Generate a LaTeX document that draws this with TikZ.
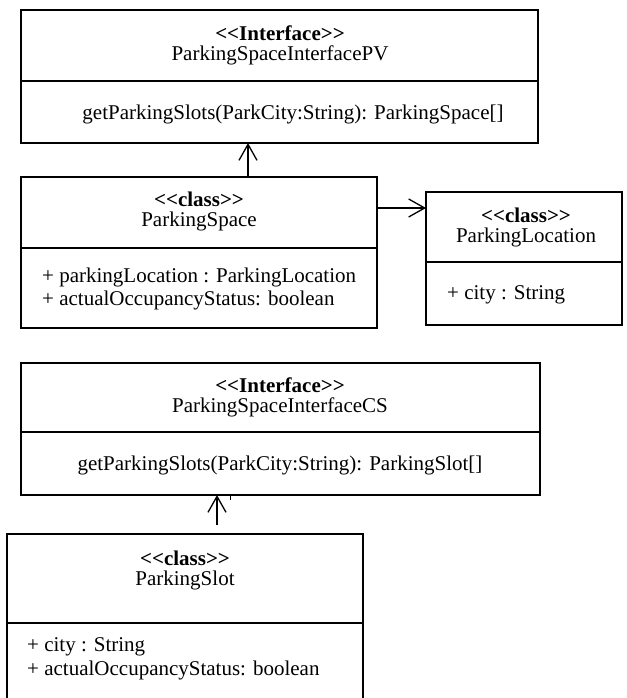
\documentclass[tikz,border=0pt]{standalone}
\usepackage{fontspec}
\setmainfont{Liberation Serif}
\usetikzlibrary{arrows.meta}
\begin{document}
\begin{tikzpicture}[x=1pt,y=-1pt,
  umlbox/.style={draw=black, line width=2.6pt, anchor=north west, inner sep=0pt, outer sep=0pt},
  divline/.style={line width=2.6pt},
  txt/.style={inner sep=0pt, font=\fontsize{21}{22}\selectfont},
  assoc/.style={line width=1.3pt, -{Straight Barb[length=16pt,width=18pt,line width=1.3pt]}}
]
\useasboundingbox (0,0) rectangle (626,698);
\clip (0,0) rectangle (626,698);

% ParkingSpaceInterfacePV
\node[umlbox, minimum width=517pt, minimum height=133pt] (pv) at (21,10) {};
\coordinate (pvdl) at (21,81); \coordinate (pvdr) at (538,81);
\draw[divline] (pvdl) -- (pvdr);
\node[txt] (pvst) at (280,33) {\textbf{<{}<Interface>{}>}};
\node[txt] (pvnm) at (280,55) {ParkingSpaceInterfacePV};
\node[txt] (pvop) at (293,114) {getParkingSlots(ParkCity:String): ParkingSpace[]};

% ParkingSpace
\node[umlbox, minimum width=356pt, minimum height=151pt] (ps) at (21,177) {};
\coordinate (psdl) at (21,248); \coordinate (psdr) at (377,248);
\draw[divline] (psdl) -- (psdr);
\node[txt] (psst) at (199,199) {\textbf{<{}<class>{}>}};
\node[txt] (psnm) at (199,221) {ParkingSpace};
\node[txt, anchor=west] (psa1) at (42,277) {+ parkingLocation : ParkingLocation};
\node[txt, anchor=west] (psa2) at (42,300) {+ actualOccupancyStatus: boolean};

% ParkingLocation
\node[umlbox, minimum width=196pt, minimum height=133pt] (pl) at (426,192) {};
\coordinate (pldl) at (426,262); \coordinate (pldr) at (622,262);
\draw[divline] (pldl) -- (pldr);
\node[txt] (plst) at (526,215) {\textbf{<{}<class>{}>}};
\node[txt] (plnm) at (526,237) {ParkingLocation};
\node[txt, anchor=west] (pla1) at (447,295) {+ city : String};

% ParkingSpaceInterfaceCS
\node[umlbox, minimum width=519pt, minimum height=132pt] (cs) at (21,363) {};
\coordinate (csdl) at (21,432); \coordinate (csdr) at (540,432);
\draw[divline] (csdl) -- (csdr);
\node[txt] (csst) at (280,385) {\textbf{<{}<Interface>{}>}};
\node[txt] (csnm) at (280,407) {ParkingSpaceInterfaceCS};
\node[txt] (csop) at (280,465) {getParkingSlots(ParkCity:String): ParkingSlot[]};

% ParkingSlot
\node[umlbox, minimum width=356pt, minimum height=180pt] (sl) at (7,534) {};
\coordinate (sldl) at (7,623); \coordinate (sldr) at (363,623);
\draw[divline] (sldl) -- (sldr);
\node[txt] (slst) at (185,558) {\textbf{<{}<class>{}>}};
\node[txt] (slnm) at (185,580) {ParkingSlot};
\node[txt, anchor=west] (sla1) at (27,647) {+ city : String};
\node[txt, anchor=west] (sla2) at (27,670) {+ actualOccupancyStatus: boolean};

% connectors
\coordinate (a1) at (248,177);
\draw[assoc] (a1) -- (a1 |- pv.south);
\coordinate (a2) at (377,208);
\draw[assoc] (a2) -- (a2 -| pl.west);
\coordinate (a3) at (217,525);
\draw[assoc] (a3) -- (a3 |- cs.south);
\coordinate (tk) at (230,495);
\draw[line width=0.8pt] (tk) -- ++(0,5);
\end{tikzpicture}
\end{document}
